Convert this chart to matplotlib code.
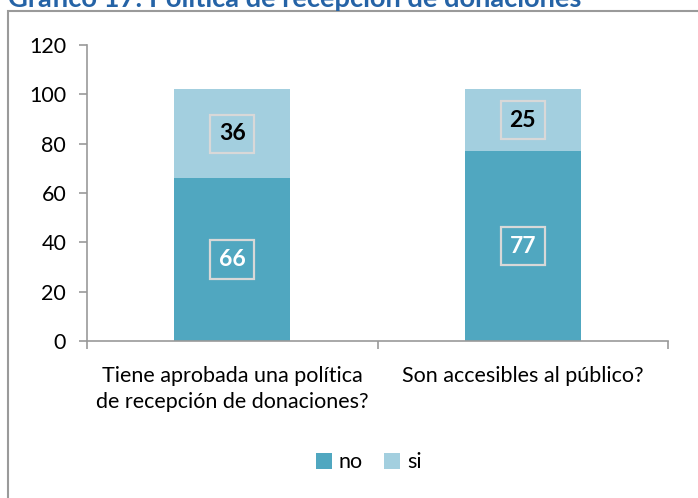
import numpy as np
import matplotlib.pyplot as plt
from matplotlib.patches import Rectangle

# Data
categories = ["Tiene aprobada una política\nde recepción de donaciones?",
              "Son accesibles al público?"]
no_vals = [66, 77]
si_vals = [36, 25]

plt.rcParams['font.family'] = ['Lato', 'DejaVu Sans']

fig = plt.figure(figsize=(6.98, 4.98), dpi=100)
fig.patch.set_facecolor('white')

# Outer chart frame (runs off the right and bottom edges)
fig.patches.append(Rectangle((8/698, -0.1), 1.2, 1 - 11/498 + 0.1,
                             transform=fig.transFigure, fill=False,
                             edgecolor='#9a9a9a', linewidth=1.5))

# Title, partially cut at the top as in the source
fig.text(8/698, 1 - 7/498, "Gráfico 17: Política de recepción de donaciones",
         color='#2563a6', fontsize=19.6, fontweight='bold', va='baseline', ha='left')

ax = fig.add_axes([87/698, 1 - 341/498, (668 - 87)/698, (341 - 45)/498])

x = np.arange(len(categories))
c_no = '#50a7c0'
c_si = '#a3cfdf'
ax.bar(x, no_vals, width=0.4, color=c_no, label='no')
ax.bar(x, si_vals, width=0.4, bottom=no_vals, color=c_si, label='si')

# Value labels in boxes
for i in range(len(categories)):
    ax.text(x[i], no_vals[i] / 2, str(no_vals[i]), ha='center', va='center',
            fontsize=16.5, fontweight='bold', color='white',
            bbox=dict(boxstyle='square,pad=0.38', facecolor=c_no,
                      edgecolor='#d8d8d8', linewidth=1.6))
    ax.text(x[i], no_vals[i] + si_vals[i] / 2, str(si_vals[i]), ha='center',
            va='center', fontsize=16.5, fontweight='bold', color='black',
            bbox=dict(boxstyle='square,pad=0.38', facecolor=c_si,
                      edgecolor='#d8d8d8', linewidth=1.6))

ax.set_xlim(-0.5, 1.5)
ax.set_ylim(0, 120)
ax.set_yticks(range(0, 121, 20))
ax.set_xticks([-0.5, 0.5, 1.5], minor=False)
ax.set_xticklabels(['', '', ''])
ax.set_xticks(x, minor=True)
ax.set_xticklabels(categories, minor=True, linespacing=1.35)
ax.tick_params(axis='x', which='minor', length=0, pad=18, labelsize=15.5)
ax.tick_params(axis='x', which='major', length=6, width=1.2, color='#999999')
ax.tick_params(axis='y', length=6, width=1.2, color='#999999', labelsize=15.5, pad=9)

for side in ['top', 'right']:
    ax.spines[side].set_visible(False)
for side in ['left', 'bottom']:
    ax.spines[side].set_color('#999999')
    ax.spines[side].set_linewidth(1.2)

ax.legend(loc='center', bbox_to_anchor=(0.485, -0.41), ncol=2, frameon=False,
          fontsize=15.5, handlelength=0.75, handleheight=0.75, handletextpad=0.3,
          columnspacing=1.0)

fig.savefig('out.png', dpi=100)
